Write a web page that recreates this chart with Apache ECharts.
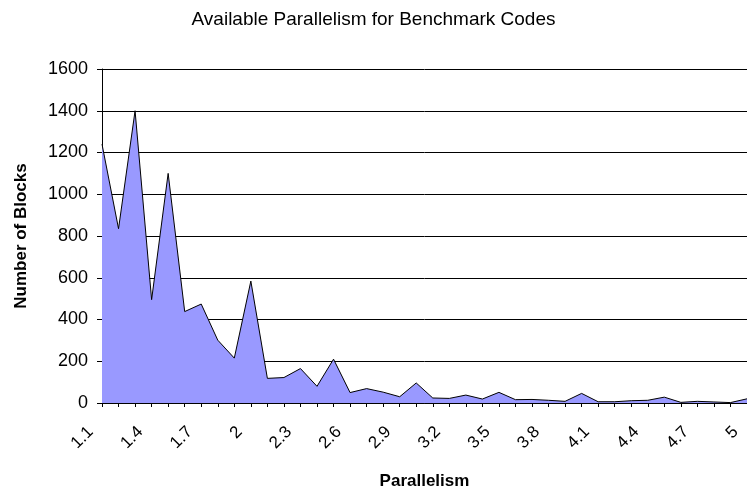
<!DOCTYPE html>
<html>
<head>
<meta charset="utf-8">
<script src="https://cdn.jsdelivr.net/npm/echarts@6/dist/echarts.min.js"></script>
<style>
html,body{margin:0;padding:0;background:#fff;overflow:hidden;}
#chart{width:747px;height:495px;}
</style>
</head>
<body>
<div id="chart"></div>
<script>
var categories = ["1.1","1.2","1.3","1.4","1.5","1.6","1.7","1.8","1.9","2",
  "2.1","2.2","2.3","2.4","2.5","2.6","2.7","2.8","2.9","3",
  "3.1","3.2","3.3","3.4","3.5","3.6","3.7","3.8","3.9","4",
  "4.1","4.2","4.3","4.4","4.5","4.6","4.7","4.8","4.9","5"];
var blocks = [1240,835,1400,495,1100,438,474,301,215,584,
  118,122,165,80,210,50,69,52,30,96,
  24,22,38,19,51,16,17,13,8,46,
  6,6,11,13,28,3,8,5,2,20];
var yTicks = [0,200,400,600,800,1000,1200,1400,1600];

var FONT = "Liberation Sans, Arial, sans-serif";
var chart = echarts.init(document.getElementById('chart'), null, {renderer:'canvas'});
chart.setOption({
  backgroundColor:'#ffffff',
  animation:false,
  title:{
    text:'Available Parallelism for Benchmark Codes',
    left:'center', top:5,
    textStyle:{fontFamily:FONT, fontSize:19, fontWeight:'normal', color:'#000'}
  },
  grid:{left:102, top:69, right:-6, bottom:86, containLabel:false},
  xAxis:{
    type:'category',
    data:categories,
    boundaryGap:false,
    name:'Parallelism',
    nameLocation:'middle',
    nameGap:70,
    nameTextStyle:{fontFamily:FONT, fontSize:17, fontWeight:'bold', color:'#000'},
    axisLine:{lineStyle:{color:'#000', width:1}},
    axisTick:{show:true, interval:0, length:4, lineStyle:{color:'#000'}},
    axisLabel:{interval:2, rotate:45, margin:15, padding:[0,16,0,0],
      fontFamily:FONT, fontSize:17, color:'#000'},
    splitLine:{show:false}
  },
  yAxis:{
    type:'value',
    min:yTicks[0], max:yTicks[yTicks.length-1], interval:200,
    name:'Number of Blocks',
    nameLocation:'middle',
    nameGap:72,
    nameTextStyle:{fontFamily:FONT, fontSize:17, fontWeight:'bold', color:'#000'},
    axisLine:{show:true, lineStyle:{color:'#000', width:1}},
    axisTick:{show:true, length:5, lineStyle:{color:'#000'}},
    axisLabel:{margin:14, fontFamily:FONT, fontSize:18, color:'#000',
      formatter:function(v){return String(v);}},
    splitLine:{show:true, lineStyle:{color:'#000', width:1}}
  },
  series:[{
    type:'line',
    data:blocks,
    showSymbol:false,
    symbol:'none',
    lineStyle:{color:'#000', width:1},
    areaStyle:{color:'#9999ff', opacity:1}
  }]
});
</script>
</body>
</html>
